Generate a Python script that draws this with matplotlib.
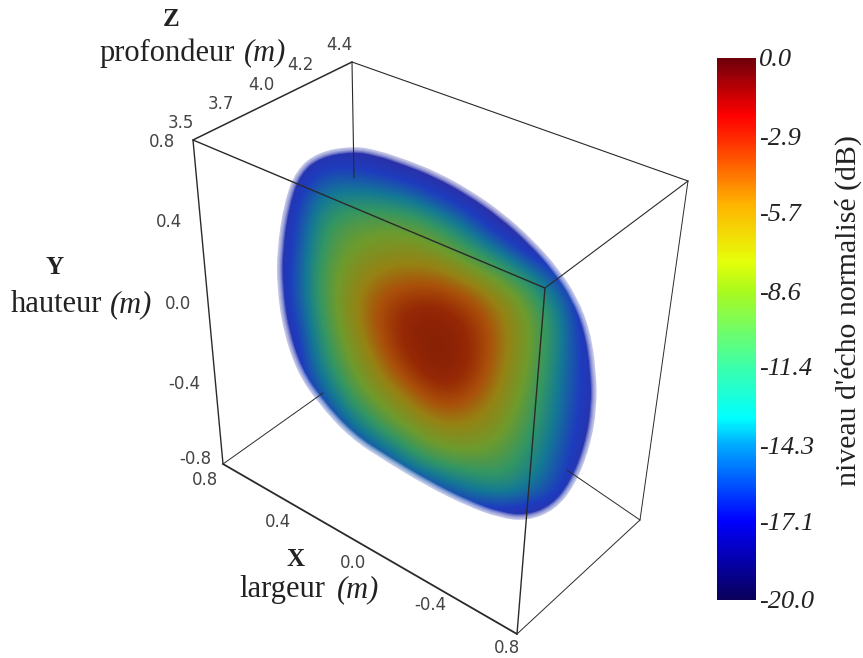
import numpy as np
import matplotlib
matplotlib.use('Agg')
import matplotlib.pyplot as plt
from matplotlib.colors import LinearSegmentedColormap, Normalize
from matplotlib.colorbar import ColorbarBase
from matplotlib.path import Path
from matplotlib.patches import PathPatch

# Echo level, in dB, on a grid in picture pixels
grid_x = [260, 290, 320, 350, 380, 410, 440, 470, 500, 530, 560, 590, 620]
grid_y = [130, 160, 190, 220, 250, 280, 310, 340, 370, 400, 430, 460, 490, 520, 550]
echo_db = [
    [-20, -20, -20, -20, -20, -20, -20, -20, -20, -20, -20, -20, -20],
    [-20, -20, -18, -18, -19, -20, -20, -20, -20, -20, -20, -20, -20],
    [-20, -19, -14.5, -14, -14.5, -16, -18.5, -20, -20, -20, -20, -20, -20],
    [-20, -18.5, -12, -10, -9.5, -10, -12.5, -16, -20, -20, -20, -20, -20],
    [-20, -18, -11, -8.5, -7.5, -7, -8, -11, -14.5, -19, -20, -20, -20],
    [-20, -17.5, -10.5, -7, -5, -4.5, -4.5, -6, -8.5, -12, -17, -20, -20],
    [-20, -18, -11, -6.5, -3.5, -1.5, -1.5, -3, -5.5, -9, -13.5, -20, -20],
    [-20, -19.5, -12, -7.5, -4, -1, 0, -2, -5, -8.5, -13.5, -19, -20],
    [-20, -20, -13.5, -9, -5.5, -2.5, -0.5, -2, -5.5, -9, -14, -18.5, -20],
    [-20, -20, -17, -11, -8, -5.5, -3, -4, -6.5, -10, -14.5, -18.5, -20],
    [-20, -20, -20, -15.5, -11, -8.5, -6.5, -6.5, -8, -11, -15, -19, -20],
    [-20, -20, -20, -20, -17.5, -12.5, -10, -9.5, -10, -12.5, -16, -19.5, -20],
    [-20, -20, -20, -20, -20, -20, -16.5, -14, -12.5, -14, -17, -20, -20],
    [-20, -20, -20, -20, -20, -20, -20, -20, -20, -20, -20, -20, -20],
    [-20, -20, -20, -20, -20, -20, -20, -20, -20, -20, -20, -20, -20],
]

# Blob outline and box edges, picture pixels
outline_x = [353, 377, 407, 437, 470, 503, 533, 558, 577, 590, 596, 597, 590, 575, 555,
             527, 500, 467, 427, 387, 350, 318, 297, 283, 277, 277, 284, 296, 318]
outline_y = [146, 150, 160, 172, 190, 213, 240, 268, 297, 330, 370, 407, 447, 485, 510,
             521, 518, 506, 486, 462, 438, 403, 372, 330, 287, 250, 203, 170, 152]

edges = [
    ((193, 140), (352, 62), 1.1), ((193, 140), (545, 288), 1.0), ((352, 62), (688, 181), 0.8),
    ((545, 288), (688, 181), 0.8), ((193, 140), (223, 464), 1.0), ((545, 288), (517, 634), 1.0),
    ((223, 464), (517, 634), 1.3), ((688, 181), (640, 520), 0.7), ((517, 634), (640, 520), 0.7),
    ((640, 520), (567, 470), 0.7), ((223, 464), (323, 393), 0.7), ((352, 62), (354, 178), 0.8),
]

tick_labels_axes = [
    ('3.5', 181, 123), ('3.7', 221, 104), ('4.0', 261, 85), ('4.2', 300, 65), ('4.4', 339, 45),
    ('0.8', 162, 142), ('0.4', 169, 222), ('0.0', 178, 304), ('-0.4', 184, 384), ('-0.8', 195, 459),
    ('0.8', 205, 480), ('0.4', 278, 522), ('0.0', 353, 563), ('-0.4', 430, 605), ('0.8', 507, 648),
]

cbar_ticks = [0.0, -2.9, -5.7, -8.6, -11.4, -14.3, -17.1, -20.0]
cbar_stops = [-20, -17.1, -14.3, -13.3, -11.4, -8.6, -7.5, -5.4, -2.9, -2.1, 0]
cbar_colors = ['#0a005a', '#0000ff', '#00aaff', '#00ffff', '#3cffaa', '#aafa1e',
               '#e6ff0a', '#ffb400', '#ff2800', '#ff0000', '#6e000a']
blob_stops = [-20, -17, -14, -11.4, -8.6, -6, -4, -2, 0]
blob_colors = ['#32289a', '#1e3cbe', '#147896', '#329664', '#6e9b2d', '#968214',
               '#aa500a', '#962805', '#821e05']

fig = plt.figure(figsize=(8.63, 6.58), dpi=100)
ax = fig.add_axes([0, 0, 1, 1])
ax.axis('off')

to_pos = lambda stops: [(s + 20) / 20 for s in stops]
blob_cmap = LinearSegmentedColormap.from_list('blob', list(zip(to_pos(blob_stops), blob_colors)))
jet_cmap = LinearSegmentedColormap.from_list('bar', list(zip(to_pos(cbar_stops), cbar_colors)))
norm = Normalize(-20, 0)

im = ax.imshow(echo_db, cmap=blob_cmap, norm=norm, interpolation='bicubic', aspect='auto',
               extent=(grid_x[0] - 15, grid_x[-1] + 15, grid_y[-1] + 15, grid_y[0] - 15))
ax.set_xlim(0, 863)
ax.set_ylim(658, 0)

# Smooth closed outline, quadratic pieces through the midpoints
pts = np.column_stack([outline_x, outline_y])
mids = (pts + np.roll(pts, -1, axis=0)) / 2
verts = [mids[-1]]
codes = [Path.MOVETO]
for i in range(len(pts)):
    verts += [pts[i], mids[i]]
    codes += [Path.CURVE3, Path.CURVE3]
blob_path = Path(verts, codes)
im.set_clip_path(PathPatch(blob_path, transform=ax.transData))

# Fade the rim to white
for lw in [8, 6.5, 5, 3.5, 2]:
    ax.add_patch(PathPatch(blob_path, fc='none', ec='white', lw=lw, alpha=0.22))

for start, end, lw in edges:
    ax.plot([start[0], end[0]], [start[1], end[1]], color='#2a2a2a', lw=lw, solid_capstyle='round')

for label, x, y in tick_labels_axes:
    ax.text(x, y, label, fontsize=12, color='#444444', ha='center', va='center', family='DejaVu Sans')

serif = 'Liberation Serif'
ink = '#222222'
ax.text(171, 20, 'Z', fontsize=18, fontweight='bold', family=serif, ha='center', va='center', color=ink)
ax.text(100, 53, 'profondeur', fontsize=22, family=serif, ha='left', va='center', color=ink)
ax.text(244, 53, '(m)', fontsize=22, family=serif, style='italic', ha='left', va='center', color=ink)
ax.text(55, 268, 'Y', fontsize=18, fontweight='bold', family=serif, ha='center', va='center', color=ink)
ax.text(11, 305, 'hauteur', fontsize=22, family=serif, ha='left', va='center', color=ink)
ax.text(110, 305, '(m)', fontsize=22, family=serif, style='italic', ha='left', va='center', color=ink)
ax.text(295, 560, 'X', fontsize=18, fontweight='bold', family=serif, ha='center', va='center', color=ink)
ax.text(239, 590, 'largeur', fontsize=22, family=serif, ha='left', va='center', color=ink)
ax.text(337, 590, '(m)', fontsize=22, family=serif, style='italic', ha='left', va='center', color=ink)

cax = fig.add_axes([717 / 863, 1 - 600 / 658, 39 / 863, 542 / 658])
cb = ColorbarBase(cax, cmap=jet_cmap, norm=norm, ticks=cbar_ticks)
cb.outline.set_visible(False)
cax.tick_params(length=0, pad=2)
cax.set_yticklabels([f'{t:.1f}' for t in cbar_ticks], fontsize=19, family=serif, style='italic', color=ink)

ax.text(848, 310, "niveau d'écho normalisé (dB)", fontsize=21.5, family=serif, rotation=90,
        ha='center', va='center', color=ink)

fig.savefig('out.png', dpi=100)
